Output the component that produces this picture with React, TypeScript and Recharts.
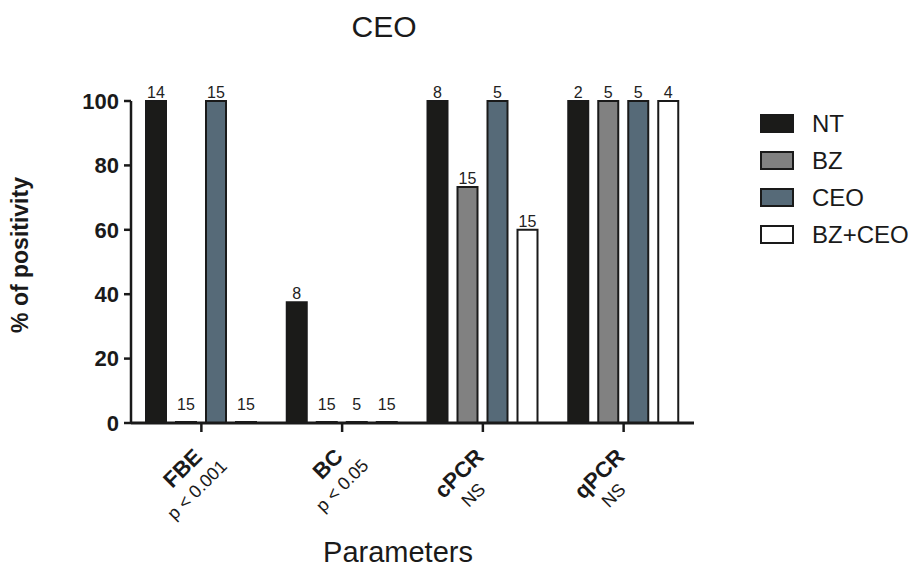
import React from 'react';
import { BarChart, Bar, XAxis, YAxis, LabelList } from 'recharts';

const categories = ['FBE', 'BC', 'cPCR', 'qPCR'];
const pValues = ['p < 0.001', 'p < 0.05', 'NS', 'NS'];

// % of positivity per group
const ntValues = [100, 37.5, 100, 100];
const bzValues = [0, 0, 73.3, 100];
const ceoValues = [100, 0, 100, 100];
const bzCeoValues = [0, 0, 60, 100];

// number of samples per group, printed above each bar
const ntCounts = [14, 8, 8, 2];
const bzCounts = [15, 15, 15, 5];
const ceoCounts = [15, 5, 5, 5];
const bzCeoCounts = [15, 15, 15, 4];

const yTicks = [0, 20, 40, 60, 80, 100];

const FONT = '"Liberation Sans", Arial, Helvetica, sans-serif';
const INK = '#1a1a1a';

const series = [
  { key: 'nt', countKey: 'ntN', name: 'NT', fill: '#1b1b19' },
  { key: 'bz', countKey: 'bzN', name: 'BZ', fill: '#818181' },
  { key: 'ceo', countKey: 'ceoN', name: 'CEO', fill: '#566a78' },
  { key: 'bzCeo', countKey: 'bzCeoN', name: 'BZ+CEO', fill: '#ffffff' },
];

const rows = categories.map((name, i) => ({
  name,
  nt: ntValues[i],
  bz: bzValues[i],
  ceo: ceoValues[i],
  bzCeo: bzCeoValues[i],
  ntN: ntCounts[i],
  bzN: bzCounts[i],
  ceoN: ceoCounts[i],
  bzCeoN: bzCeoCounts[i],
}));

const ctx = typeof document !== 'undefined' ? document.createElement('canvas').getContext('2d') : null;
function textWidth(s: string, font: string) {
  if (!ctx) return s.length * 12;
  ctx.font = font;
  return ctx.measureText(s).width;
}

function CategoryTick(props: any) {
  const { x, y, payload, index } = props;
  const name = String(payload.value);
  const w = textWidth(name, `bold 22px ${FONT}`);
  return (
    <g transform={`translate(${x + 2},${y + 26}) rotate(-45)`}>
      <text textAnchor="end" fontFamily={FONT} fontWeight="bold" fontSize={22} fill={INK}>
        {name}
      </text>
      <text x={-w / 2 - 5} y={24} textAnchor="middle" fontFamily={FONT} fontSize={18} fill={INK}>
        {pValues[index]}
      </text>
    </g>
  );
}

// zero-height bars keep their count a little higher above the baseline
function CountLabel(props: any) {
  const { x, y, width, height, value } = props;
  const lift = Math.abs(height) < 2 ? 12 : 3;
  return (
    <text
      x={x + width / 2}
      y={y - lift}
      textAnchor="middle"
      fontFamily={FONT}
      fontSize={16}
      fill="#222"
    >
      {value}
    </text>
  );
}

function LegendBox() {
  return (
    <div style={{ position: 'absolute', left: 760, top: 105, fontFamily: FONT }}>
      {series.map((s) => (
        <div key={s.key} style={{ display: 'flex', alignItems: 'center', height: 37 }}>
          <span
            style={{
              display: 'inline-block',
              width: 30,
              height: 15,
              background: s.fill,
              border: `2.5px solid ${INK}`,
            }}
          />
          <span style={{ marginLeft: 18, fontSize: 24, color: INK }}>{s.name}</span>
        </div>
      ))}
    </div>
  );
}

export default function App() {
  return (
    <div style={{ position: 'absolute', left: 0, top: 0, width: 922, height: 570, background: '#fff' }}>
      <BarChart
        width={922}
        height={570}
        data={rows}
        margin={{ top: 101, right: 228, bottom: 0, left: 1 }}
        barGap={10}
      >
        <YAxis
          width={130}
          domain={[0, 100]}
          ticks={yTicks}
          interval={0}
          axisLine={{ stroke: INK, strokeWidth: 2.5 }}
          tickLine={{ stroke: INK, strokeWidth: 2.5 }}
          tickSize={7}
          tickMargin={5}
          tick={{ fill: INK, fontSize: 22, fontWeight: 'bold', fontFamily: FONT }}
        />
        <XAxis
          dataKey="name"
          height={147}
          interval={0}
          axisLine={{ stroke: INK, strokeWidth: 3 }}
          tickLine={{ stroke: INK, strokeWidth: 2.5 }}
          tickSize={9}
          tickMargin={0}
          tick={<CategoryTick />}
        />
        {series.map((s) => (
          <Bar
            key={s.key}
            dataKey={s.key}
            name={s.name}
            fill={s.fill}
            stroke={INK}
            strokeWidth={2}
            barSize={20}
            minPointSize={1}
            isAnimationActive={false}
          >
            <LabelList dataKey={s.countKey} content={<CountLabel />} />
          </Bar>
        ))}
      </BarChart>
      <LegendBox />
      <svg
        width={922}
        height={570}
        style={{ position: 'absolute', left: 0, top: 0, pointerEvents: 'none' }}
      >
        <text x={384} y={37} textAnchor="middle" fontFamily={FONT} fontSize={30} fill={INK}>
          CEO
        </text>
        <text
          transform="translate(28,255) rotate(-90)"
          textAnchor="middle"
          fontFamily={FONT}
          fontSize={23}
          fontWeight="bold"
          fill={INK}
        >
          % of positivity
        </text>
        <text x={398} y={562} textAnchor="middle" fontFamily={FONT} fontSize={29} fill={INK}>
          Parameters
        </text>
      </svg>
    </div>
  );
}
